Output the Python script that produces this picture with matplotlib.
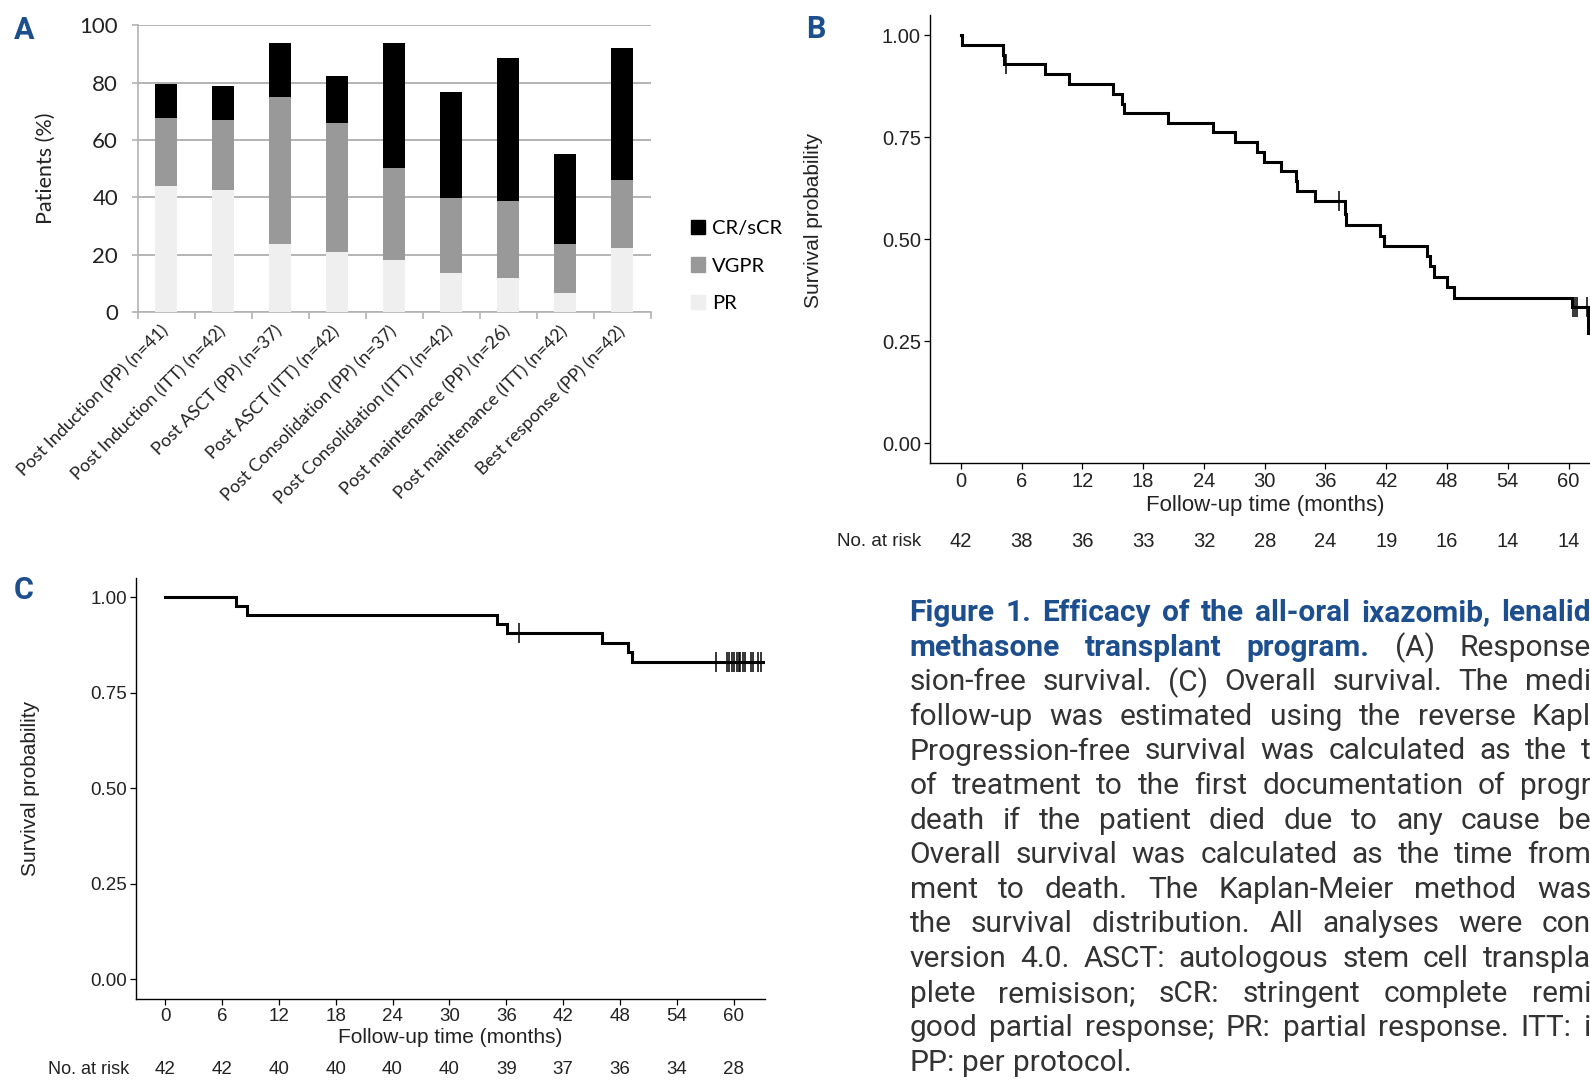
import numpy as np
import matplotlib
matplotlib.use('Agg')
import matplotlib.pyplot as plt
from matplotlib.patches import Patch
from matplotlib.transforms import blended_transform_factory

W, H = 1590, 1080
BLUE = '#1d4f8f'
TXT = '#333333'

# ---- panel A data (percent of patients)
categories = ['Post Induction (PP) (n=41)', 'Post Induction (ITT) (n=42)',
              'Post ASCT (PP) (n=37)', 'Post ASCT (ITT) (n=42)',
              'Post Consolidation (PP) (n=37)', 'Post Consolidation (ITT) (n=42)',
              'Post maintenance (PP) (n=26)', 'Post maintenance (ITT) (n=42)',
              'Best response (PP) (n=42)']
pr = [43.8, 42.5, 23.9, 21.1, 18.2, 13.6, 11.9, 6.7, 22.2]
vgpr = [23.8, 24.6, 51.1, 44.8, 31.9, 26.1, 26.8, 17.2, 23.7]
crscr = [11.9, 11.7, 18.7, 16.5, 43.6, 37.0, 49.8, 31.1, 46.1]

# ---- panel B: progression-free survival (step times, level after step)
pfs_t = [0, 0.1, 4.2, 4.3, 8.3, 10.7, 15.0, 15.9, 16.1, 20.5, 24.9, 27.1, 29.2,
         29.9, 31.6, 33.1, 33.2, 35.0, 37.9, 38.0, 41.4, 41.8, 46.0, 46.3, 46.7,
         48.0, 48.7, 60.3, 61.9]
pfs_s = [1.0, 0.976, 0.952, 0.929, 0.905, 0.881, 0.857, 0.833, 0.810, 0.786,
         0.762, 0.738, 0.714, 0.690, 0.667, 0.643, 0.619, 0.595, 0.561, 0.535,
         0.508, 0.484, 0.459, 0.434, 0.408, 0.383, 0.357, 0.333, 0.27]
pfs_end = 64.0
pfs_cens = [4.5, 37.3, 60.4, 60.6, 60.85, 61.8]

# ---- panel C: overall survival
os_t = [0, 7.44, 8.65, 35.0, 36.1, 46.1, 48.8, 49.3]
os_s = [1.0, 0.976, 0.952, 0.929, 0.905, 0.881, 0.857, 0.831]
os_end = 63.2
os_cens = [37.3, 58.1, 59.3, 59.5, 59.8, 60.0, 60.3, 60.5, 60.7, 61.0, 61.2,
           61.8, 62.0, 62.5, 62.9]

risk_times = list(range(0, 61, 6))
pfs_risk = [42, 38, 36, 33, 32, 28, 24, 19, 16, 14, 14]
os_risk = [42, 42, 40, 40, 40, 40, 39, 37, 36, 34, 28]

caption = [
    [("Figure 1. Efficacy of the all-oral ixazomib, lenalid", True)],
    [("methasone transplant program.", True), ("(A) Response", False)],
    [("sion-free survival. (C) Overall survival. The medi", False)],
    [("follow-up was estimated using the reverse Kapl", False)],
    [("Progression-free survival was calculated as the t", False)],
    [("of treatment to the first documentation of progr", False)],
    [("death if the patient died due to any cause be", False)],
    [("Overall survival was calculated as the time from", False)],
    [("ment to death. The Kaplan-Meier method was", False)],
    [("the survival distribution. All analyses were con", False)],
    [("version 4.0. ASCT: autologous stem cell transpla", False)],
    [("plete remisison; sCR: stringent complete remi", False)],
    [("good partial response; PR: partial response. ITT: i", False)],
    [("PP: per protocol.", False)],
]


def frac(l, t, r, b):
    return [l / W, 1 - b / H, (r - l) / W, (b - t) / H]


def step_of(times, levels, t):
    idx = np.searchsorted(times, t, side='right') - 1
    return levels[idx]


fig = plt.figure(figsize=(W / 100, H / 100), dpi=100)

# ================= A
axA = fig.add_axes(frac(137.5, 25.4, 650.5, 312))
x = np.arange(len(categories))
bot2 = np.add(pr, vgpr)
axA.bar(x, pr, 0.4, color='#efefef', zorder=3)
axA.bar(x, vgpr, 0.4, bottom=pr, color='#999999', zorder=3)
axA.bar(x, crscr, 0.4, bottom=bot2, color='black', zorder=3)
axA.set_xlim(-0.5, 8.5)
axA.set_ylim(0, 100)
axA.set_yticks(range(0, 101, 20))
axA.yaxis.grid(True, color='#b3b3b3', lw=1.4, zorder=0)
for s in ['top', 'right']:
    axA.spines[s].set_visible(False)
for s in ['left', 'bottom']:
    axA.spines[s].set_color('#b3b3b3')
    axA.spines[s].set_linewidth(1.2)
axA.set_xticks(x, categories, rotation=45, ha='right', va='center',
               rotation_mode='anchor', fontsize=13, family='Lato', color='#222222')
axA.set_xticks(np.arange(-0.5, 9, 1), minor=True)
axA.tick_params(axis='x', which='major', length=0, pad=12)
axA.tick_params(axis='x', which='minor', length=5, color='#b3b3b3', width=1.2)
axA.tick_params(axis='y', length=4, color='#b3b3b3', width=1.2, pad=10, labelsize=16)
for lab in axA.get_yticklabels():
    lab.set_family('Lato')
    lab.set_color('#222222')
fig.text(46 / W, 1 - 168.7 / H, 'Patients (%)', rotation=90, ha='center', va='center',
         fontsize=15.5, family='Lato', color='#222222')
handles = [Patch(color='black'), Patch(color='#999999'), Patch(color='#efefef')]
fig.legend(handles, ['CR/sCR', 'VGPR', 'PR'], loc='center left',
           bbox_to_anchor=(681 / W, 1 - 266 / H), frameon=False,
           prop={'family': 'Lato', 'size': 14.5}, handlelength=0.7, handleheight=0.7,
           handletextpad=0.35, labelspacing=1.0, borderpad=0)


def km_axes(ax, times, levels, end, cens, xlim, lw, fs):
    tt = list(times) + [end]
    ss = list(levels) + [levels[-1]]
    ax.step(tt, ss, where='post', color='black', lw=lw, solid_joinstyle='miter')
    cy = [step_of(times, levels, c) for c in cens]
    ax.plot(cens, cy, ls='none', marker='|', ms=14, mew=1.1, color='black')
    ax.set_xlim(*xlim)
    ax.set_ylim(-0.05, 1.05)
    ax.set_xticks(risk_times)
    ax.set_yticks([0, 0.25, 0.5, 0.75, 1.0])
    ax.set_yticklabels(['0.00', '0.25', '0.50', '0.75', '1.00'])
    for s in ['top', 'right']:
        ax.spines[s].set_visible(False)
    for s in ['left', 'bottom']:
        ax.spines[s].set_linewidth(1.0)
    ax.tick_params(length=4, width=0.9, pad=2.5, labelsize=fs, colors='black')
    for lab in ax.get_xticklabels() + ax.get_yticklabels():
        lab.set_family('Liberation Sans')
        lab.set_color('#222222')


# ================= B
axB = fig.add_axes(frac(930, 15.1, 930 + (63.84 + 3.04) * 10.13, 463.4))
km_axes(axB, pfs_t, pfs_s, pfs_end, pfs_cens, (-3.04, 63.84), 2.2, 14.5)
fig.text(813.6 / W, 1 - 220 / H, 'Survival probability', rotation=90, ha='center',
         va='center', fontsize=15, family='Liberation Sans', color='#222222')
fig.text(1265 / W, 1 - 505 / H, 'Follow-up time (months)', ha='center', va='center',
         fontsize=16, family='Liberation Sans', color='#222222')
trB = blended_transform_factory(axB.transData, fig.transFigure)
for t, n in zip(risk_times, pfs_risk):
    axB.text(t, 1 - 541.6 / H, str(n), transform=trB, ha='center', va='center',
             fontsize=14.5, family='Liberation Sans', color='#222222')
fig.text(921 / W, 1 - 541.6 / H, 'No. at risk', ha='right', va='center',
         fontsize=13.5, family='Liberation Sans', color='#222222')

# ================= C
axC = fig.add_axes(frac(136.2, 577.9, 136.2 + (63.3 + 3.04) * 9.48, 998.6))
km_axes(axC, os_t, os_s, os_end, os_cens, (-3.04, 63.3), 2.2, 13.5)
fig.text(31 / W, 1 - 788.5 / H, 'Survival probability', rotation=90, ha='center',
         va='center', fontsize=15, family='Liberation Sans', color='#222222')
fig.text(450 / W, 1 - 1037.7 / H, 'Follow-up time (months)', ha='center', va='center',
         fontsize=15, family='Liberation Sans', color='#222222')
trC = blended_transform_factory(axC.transData, fig.transFigure)
for t, n in zip(risk_times, os_risk):
    axC.text(t, 1 - 1070 / H, str(n), transform=trC, ha='center', va='center',
             fontsize=13.5, family='Liberation Sans', color='#222222')
fig.text(129 / W, 1 - 1070 / H, 'No. at risk', ha='right', va='center',
         fontsize=13, family='Liberation Sans', color='#222222')

# panel letters
for lab, px, py in [('A', 24, 30), ('B', 816, 29), ('C', 24, 590)]:
    fig.text(px / W, 1 - py / H, lab, ha='center', va='center', fontsize=22,
             fontweight='bold', family='Roboto', color=BLUE)

# ================= caption (justified lines)
renderer = fig.canvas.get_renderer()
x0, x1 = 909.5, 1591.0
cap_fs = 21.5
for i, line in enumerate(caption):
    y = 1 - (613 + i * 34.6) / H
    words = [(w, b) for seg, b in line for w in seg.split()]
    texts = []
    for w, b in words:
        texts.append(fig.text(0, y, w, fontsize=cap_fs, family='Roboto',
                              fontweight='bold' if b else 'normal',
                              color=BLUE if b else TXT, va='center', ha='left'))
    widths = [t.get_window_extent(renderer).width for t in texts]
    normal_gap = 0.25 * cap_fs * 100 / 72
    if i == len(caption) - 1:
        gap = normal_gap
    else:
        gap = (x1 - x0 - sum(widths)) / max(len(words) - 1, 1)
        gap = max(gap, 0.45 * normal_gap)
    xp = x0
    for t, wd in zip(texts, widths):
        t.set_x(xp / W)
        xp += wd + gap

fig.savefig('out.png', dpi=100)
